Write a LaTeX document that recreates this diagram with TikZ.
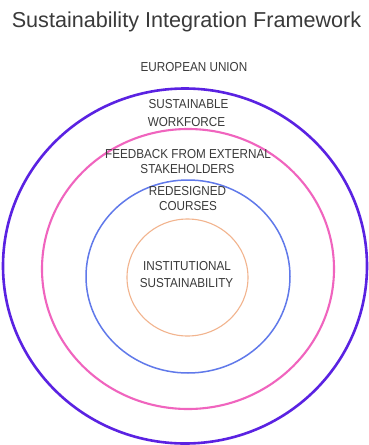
\documentclass[tikz,border=0pt]{standalone}
\usepackage{fontspec}
\setmainfont{Liberation Sans}
\newfontfamily\labfont[FakeStretch=0.9]{Liberation Sans}
\definecolor{ringpurple}{HTML}{5A22E2}
\definecolor{ringpink}{HTML}{F064BE}
\definecolor{ringblue}{HTML}{6079EA}
\definecolor{ringorange}{HTML}{F2B48E}
\definecolor{txt}{HTML}{3A3A3A}
\tikzset{
  lab/.style={anchor=base, inner sep=0pt, text=txt, font=\labfont\fontsize{13}{16}\selectfont},
  ttl/.style={anchor=base, inner sep=0pt, text=txt, font=\fontsize{21.6}{26}\selectfont},
}
\begin{document}
\begin{tikzpicture}[x=1pt,y=-1pt]
\useasboundingbox (0,0) rectangle (368,445);
\fill[white] (0,0) rectangle (368,445);
\draw[ringpurple, line width=2.6pt] (185,266) ellipse [x radius=182, y radius=177.5];
\draw[ringpink, line width=2.1pt] (188,269) ellipse [x radius=146, y radius=140];
\draw[ringblue, line width=1.5pt] (188,276.5) ellipse [x radius=102, y radius=96.5];
\draw[ringorange, line width=1.1pt] (187.5,277.5) ellipse [x radius=60.5, y radius=58.5];
\node[ttl] (title) at (186.5,27.5) {Sustainability Integration Framework};
\node[lab] (eu) at (194,71) {EUROPEAN UNION};
\node[lab] (sw1) at (188.5,108) {SUSTAINABLE};
\node[lab] (sw2) at (186.5,126) {WORKFORCE};
\node[lab] (fb1) at (188,158) {FEEDBACK FROM EXTERNAL};
\node[lab] (fb2) at (187.5,173) {STAKEHOLDERS};
\node[lab] (rc1) at (187.5,195) {REDESIGNED};
\node[lab] (rc2) at (188,210) {COURSES};
\node[lab] (is1) at (187,270) {INSTITUTIONAL};
\node[lab] (is2) at (186.5,287) {SUSTAINABILITY};
\end{tikzpicture}
\end{document}
